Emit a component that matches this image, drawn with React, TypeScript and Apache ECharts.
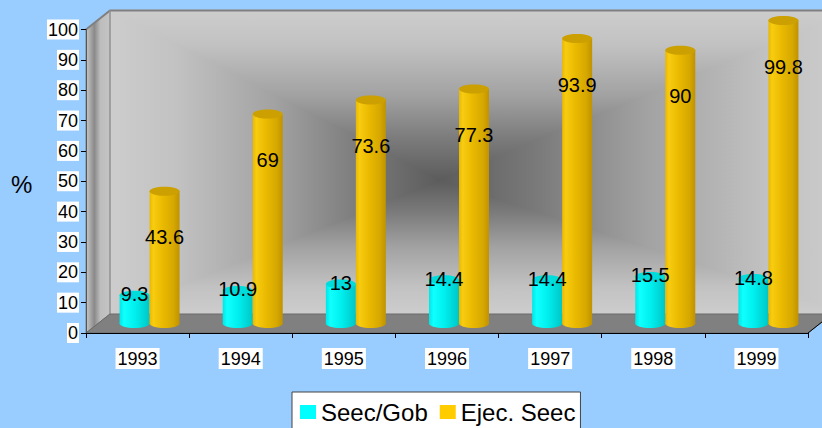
import React, { useEffect, useRef } from "react";
import * as echarts from "echarts";

const categories = ["1993", "1994", "1995", "1996", "1997", "1998", "1999"];
const seecGob = [9.3, 10.9, 13, 14.4, 14.4, 15.5, 14.8];
const ejecSeec = [43.6, 69, 73.6, 77.3, 93.9, 90, 99.8];
const yTicks = { min: 0, max: 100, interval: 10 };
const seriesNames = ["Seec/Gob", "Ejec. Seec"];

const FONT = "'Liberation Sans', Arial, sans-serif";
const W = 822;
const H = 428;
const GL = 86; // grid left
const GR = 808; // grid right
const GT = 29.5; // grid top
const GB = 333; // grid bottom
const DX = 24; // depth x
const DY = -19; // depth y
const BAR_W = 30;
const WALL_CX = 440;
const WALL_CY = 180;

const gold = {
  body: {
    type: "linear", x: 0, y: 0, x2: 1, y2: 0,
    colorStops: [
      { offset: 0, color: "#e8b800" },
      { offset: 0.12, color: "#f8cc10" },
      { offset: 0.45, color: "#e9b900" },
      { offset: 0.8, color: "#d6a800" },
      { offset: 1, color: "#c09200" },
    ],
  },
  top: "#cba000",
  color: "#FFCC00",
};
const cyan = {
  body: {
    type: "linear", x: 0, y: 0, x2: 1, y2: 0,
    colorStops: [
      { offset: 0, color: "#00e6e6" },
      { offset: 0.15, color: "#10ffff" },
      { offset: 0.5, color: "#00f0f0" },
      { offset: 1, color: "#00c6c6" },
    ],
  },
  top: "#00dcdc",
  color: "#00FFFF",
};

function makeRender(seriesIdx: number, st: any) {
  return (params: any, api: any) => {
    const idx = api.value(0);
    const val = api.value(1);
    const base = api.coord([idx, 0]);
    const top = api.coord([idx, val]);
    const cx0 = base[0] + DX / 2;
    const by = base[1] + DY / 2;
    const ty = top[1] + DY / 2;
    const x = seriesIdx === 0 ? cx0 - BAR_W : cx0;
    const cx = x + BAR_W / 2;
    const ry = 4.5;
    const labelY = seriesIdx === 0 ? ty - 1 : ty + 46;
    return {
      type: "group",
      children: [
        { type: "ellipse", shape: { cx, cy: by, rx: BAR_W / 2, ry }, style: { fill: st.body } },
        { type: "rect", shape: { x, y: ty, width: BAR_W, height: by - ty }, style: { fill: st.body } },
        { type: "ellipse", shape: { cx, cy: ty, rx: BAR_W / 2, ry }, style: { fill: st.top } },
        {
          type: "text",
          z2: 100,
          style: {
            text: String(val),
            x: cx,
            y: labelY,
            align: "center",
            verticalAlign: "middle",
            font: `20px ${FONT}`,
            fill: "#000",
          },
        },
      ],
    };
  };
}

const wallStops = [
  { offset: 0, color: "#cdcdcd" },
  { offset: 0.2, color: "#c2c2c2" },
  { offset: 0.5, color: "#a2a2a2" },
  { offset: 0.75, color: "#7c7c7c" },
  { offset: 1, color: "#5c5c5c" },
];

function wallTri(points: number[][], from: number[], to: number[]) {
  const grad = {
    type: "linear",
    x: from[0], y: from[1], x2: to[0], y2: to[1],
    global: true,
    colorStops: wallStops,
  };
  return {
    type: "polygon",
    z: -10,
    shape: { points },
    style: { fill: grad, stroke: grad, lineWidth: 1.5, lineJoin: "round" },
  };
}

export default function App() {
  const ref = useRef<HTMLDivElement>(null);
  useEffect(() => {
    const chart = echarts.init(ref.current!, null, { renderer: "svg" });
    const floorColor = "#808080";
    const wl = GL + DX;
    const wt = GT + DY;
    const wr = W + 30;
    const wb = GB + DY;
    const C = [WALL_CX, WALL_CY];
    const option: any = {
      animation: false,
      backgroundColor: "#99CCFF",
      grid: { left: GL, right: W - GR, top: GT, bottom: H - GB, containLabel: false },
      legend: {
        data: seriesNames.map((n, i) => ({
          name: n,
          itemStyle: { color: i === 0 ? cyan.color : gold.color },
        })),
        left: 292,
        top: 392,
        icon: "rect",
        itemWidth: 16,
        itemHeight: 14,
        itemGap: 12,
        padding: [8, 5, 12, 8],
        backgroundColor: "#ffffff",
        borderColor: "#444",
        borderWidth: 1,
        borderRadius: 0,
        textStyle: { fontSize: 24, fontFamily: FONT, color: "#000", padding: [0, 0, 0, 0] },
      },
      xAxis: {
        type: "category",
        data: categories,
        boundaryGap: true,
        z: 5,
        axisLine: { lineStyle: { color: "#000", width: 1 } },
        axisTick: { show: true, length: 5, lineStyle: { color: "#000" }, alignWithLabel: false },
        axisLabel: {
          fontSize: 18,
          fontFamily: FONT,
          color: "#000",
          backgroundColor: "#fff",
          padding: [2, 2, 1, 2],
          margin: 15,
        },
      },
      yAxis: {
        type: "value",
        min: yTicks.min,
        max: yTicks.max,
        interval: yTicks.interval,
        z: 5,
        splitLine: { show: false },
        axisLine: { show: true, lineStyle: { color: "#555", width: 1 } },
        axisTick: { show: true, length: 5, lineStyle: { color: "#000" } },
        axisLabel: {
          fontSize: 18,
          fontFamily: FONT,
          color: "#000",
          backgroundColor: "#fff",
          padding: [1, 1, 1, 1],
          margin: 7,
        },
      },
      graphic: [
        {
          type: "text",
          x: 11,
          y: 184,
          style: { text: "%", font: `24px ${FONT}`, fill: "#000", verticalAlign: "middle", align: "left" },
        },
        // back wall: rectangular "from centre" gradient in four triangles
        wallTri([[wl, wt], [wr, wt], C], [C[0], wt], C),
        wallTri([[wl, wb], [wr, wb], C], [C[0], wb], C),
        wallTri([[wl, wt], [wl, wb], C], [wl, C[1]], C),
        wallTri([[wr, wt], [wr, wb], C], [wr, C[1]], C),
        // side wall
        {
          type: "polygon",
          z: -8,
          shape: { points: [[GL, GT], [wl, wt], [wl, wb], [GL, GB]] },
          style: {
            fill: {
              type: "linear", x: 0, y: 0, x2: 1, y2: 0,
              colorStops: [
                { offset: 0, color: "#c8c8c8" },
                { offset: 0.35, color: "#8a8a8a" },
                { offset: 0.6, color: "#bdbdbd" },
                { offset: 1, color: "#c4c4c4" },
              ],
            },
            stroke: "#808080",
            lineWidth: 1,
          },
        },
        // top border lines
        {
          type: "polyline",
          z: -7,
          shape: { points: [[GL, GT], [wl, wt], [W + 5, wt]] },
          style: { stroke: "#808080", lineWidth: 2, fill: "none" },
        },
        {
          type: "line",
          z: -7,
          shape: { x1: wl, y1: wt, x2: wl, y2: wb },
          style: { stroke: "#9a9a9a", lineWidth: 1 },
        },
        // floor
        {
          type: "polygon",
          z: -6,
          shape: { points: [[GL, GB], [wl, wb], [GR + DX, wb], [GR, GB]] },
          style: { fill: floorColor, stroke: "#6a6a6a", lineWidth: 1 },
        },
        {
          type: "line",
          z: 6,
          shape: { x1: GR, y1: GB, x2: GR + DX, y2: wb },
          style: { stroke: "#000", lineWidth: 1 },
        },
      ],
      series: [
        {
          name: seriesNames[0],
          type: "custom",
          z: 2,
          itemStyle: { color: cyan.color },
          encode: { x: 0, y: 1 },
          data: seecGob.map((v, i) => [i, v]),
          renderItem: makeRender(0, cyan),
        },
        {
          name: seriesNames[1],
          type: "custom",
          z: 2,
          itemStyle: { color: gold.color },
          encode: { x: 0, y: 1 },
          data: ejecSeec.map((v, i) => [i, v]),
          renderItem: makeRender(1, gold),
        },
      ],
    };
    chart.setOption(option);
    return () => chart.dispose();
  }, []);
  return (
    <div
      ref={ref}
      style={{ position: "fixed", left: 0, top: 0, width: W, height: H }}
    />
  );
}
